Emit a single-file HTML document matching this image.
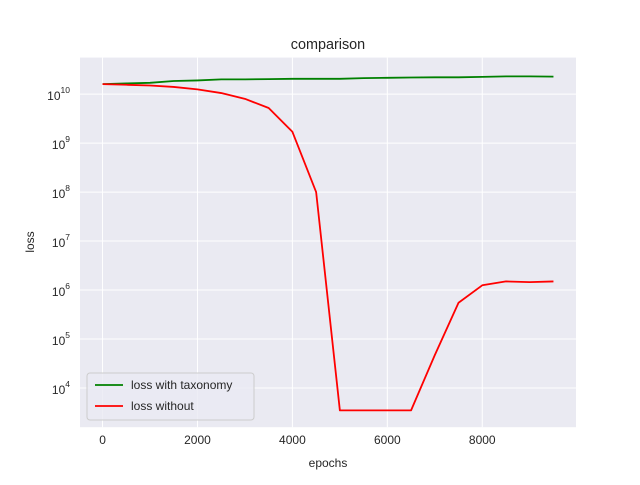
<!DOCTYPE html>
<html><head><meta charset="utf-8"><style>
body{margin:0;background:#fff;}
svg text{font-family:"Liberation Sans","DejaVu Sans",sans-serif;fill:#262626;}
</style></head><body>
<svg id="chart" width="640" height="480">
<rect x="80" y="57.6" width="496" height="369.6" fill="#eaeaf2"/>
<g id="grid"></g>
<g id="ticks"></g>
<g id="lines"></g>
<text x="328" y="49" text-anchor="middle" font-size="14.4">comparison</text>
<text x="328" y="467" text-anchor="middle" font-size="12">epochs</text>
<text transform="translate(34,242) rotate(-90)" text-anchor="middle" font-size="12">loss</text>
<g>
<rect x="87" y="373" width="167" height="47" rx="3" fill="#eaeaf2" fill-opacity="0.8" stroke="#ccc"/>
<line x1="95" y1="385" x2="123" y2="385" stroke="green" stroke-width="1.8"/>
<text x="131" y="389" font-size="12">loss with taxonomy</text>
<line x1="95" y1="406" x2="123" y2="406" stroke="red" stroke-width="1.8"/>
<text x="131" y="410" font-size="12">loss without</text>
</g>
</svg>
<script>
const epochs=[0,500,1000,1500,2000,2500,3000,3500,4000,4500,5000,5500,6000,6500,7000,7500,8000,8500,9000,9500];
const lossTaxonomy=[1.6e10,1.65e10,1.7e10,1.85e10,1.9e10,2.0e10,2.0e10,2.02e10,2.05e10,2.05e10,2.05e10,2.12e10,2.15e10,2.18e10,2.2e10,2.2e10,2.25e10,2.3e10,2.3e10,2.27e10];
const lossWithout=[1.6e10,1.55e10,1.5e10,1.4e10,1.25e10,1.05e10,8e9,5.2e9,1.7e9,1e8,3.5e3,3.5e3,3.5e3,3.5e3,4.7e4,5.5e5,1.25e6,1.5e6,1.45e6,1.5e6];
const xTicks=[0,2000,4000,6000,8000];
const yExps=[4,5,6,7,8,9,10];
const L=80,R=576,T=57.6,B=427.2;
const xmin=-475,xmax=9975,ymin=3.2,ymax=10.745;
const X=v=>L+(v-xmin)/(xmax-xmin)*(R-L);
const Y=v=>B-(Math.log10(v)-ymin)/(ymax-ymin)*(B-T);
const NS="http://www.w3.org/2000/svg";
const grid=document.getElementById('grid'),ticks=document.getElementById('ticks'),lines=document.getElementById('lines');
function mk(tag,attrs,parent){const e=document.createElementNS(NS,tag);for(const k in attrs)e.setAttribute(k,attrs[k]);parent.appendChild(e);return e;}
xTicks.forEach(t=>{
  const g=mk('line',{x1:X(t),x2:X(t),y1:T,y2:B,stroke:'#fff','stroke-width':1},grid);
  
  
  const tx=mk('text',{x:X(t),y:B+17,'text-anchor':'middle','font-size':12},ticks);
  tx.textContent=t;
  
  
});
yExps.forEach(e=>{
  const y=Y(Math.pow(10,e));
  const g=mk('line',{x1:L,x2:R,y1:y,y2:y,stroke:'#fff','stroke-width':1},grid);
  
  
  const tx=mk('text',{x:L-10,y:y+6,'text-anchor':'end','font-size':12},ticks);
  
  
  tx.textContent='10';
  const s=mk('tspan',{dy:-7,'font-size':8.5},tx);s.textContent=e;
});
function line(vals,color,name){
  const p=mk('polyline',{points:epochs.map((x,i)=>X(x)+','+Y(vals[i])).join(' '),fill:'none',stroke:color,'stroke-width':1.8,'stroke-linejoin':'round'},lines);
  
  
}
line(lossTaxonomy,'green','line-loss-with-taxonomy');
line(lossWithout,'red','line-loss-without');
</script>
</body></html>
